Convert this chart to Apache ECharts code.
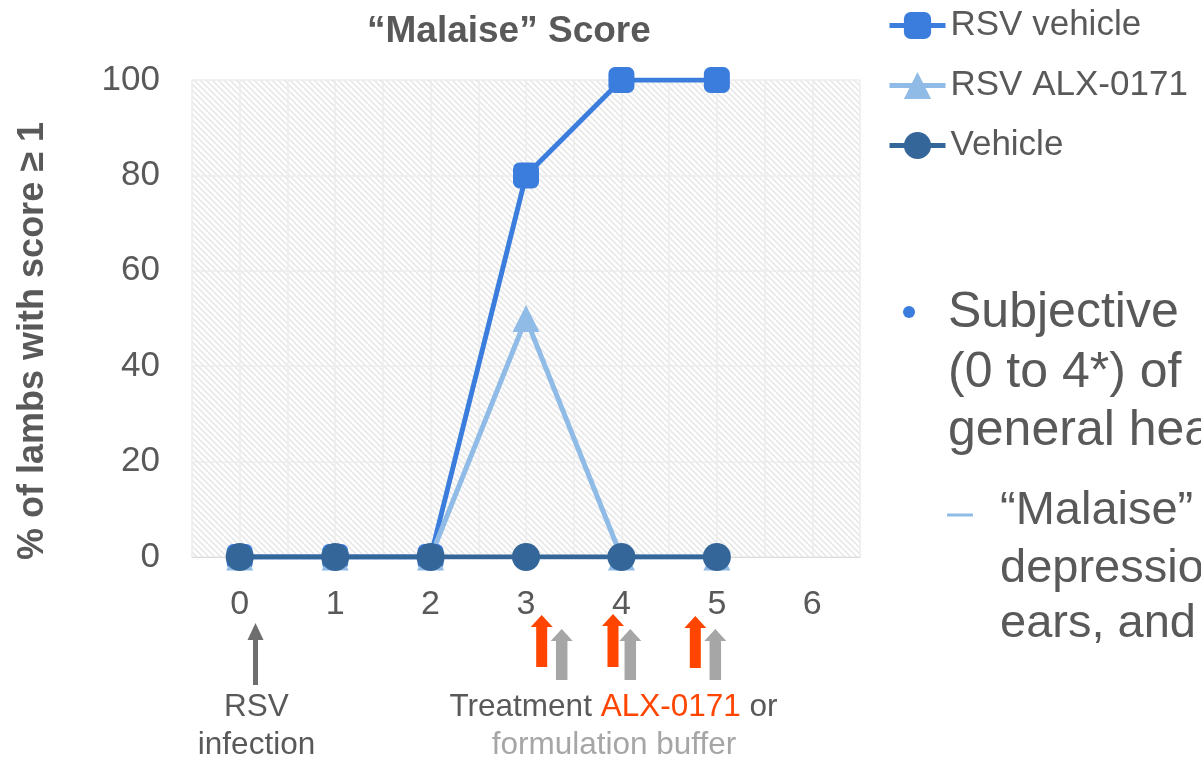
<!DOCTYPE html>
<html>
<head>
<meta charset="utf-8">
<script src="https://cdn.jsdelivr.net/npm/echarts@6/dist/echarts.min.js"></script>
<style>
  html, body { margin: 0; padding: 0; background: #ffffff; }
  #chart { width: 1201px; height: 759px; }
</style>
</head>
<body>
<div id="chart"></div>
<script>
// ---- data ----
const days = [0, 1, 2, 3, 4, 5, 6];
const seriesNames = ['RSV vehicle', 'RSV ALX-0171', 'Vehicle'];
const rsvVehicle = [0, 0, 0, 80, 100, 100];
const rsvAlx = [0, 0, 0, 50, 0, 0];
const vehicle = [0, 0, 0, 0, 0, 0];
const yTicks = [0, 20, 40, 60, 80, 100];
const titleText = '\u201CMalaise\u201D Score';
const yName = '% of lambs with score \u2265 1';
const bulletLines = ['Subjective', '(0 to 4*) of', 'general health'];
const subLines = ['\u201CMalaise\u201D', 'depression', 'ears, and'];

const FONT = "'Liberation Sans', Arial, sans-serif";
const GREY = '#595959';
const C1 = '#3b7ddd', C2 = '#8fbbe6', C3 = '#346699';
const ORANGE = '#ff4500', LGREY = '#a6a6a6', DGREY = '#6e6e6e';

function pairs(vals) { return vals.map((v, i) => [days[i], v]); }

// hatched background pattern
const tile = document.createElement('canvas');
tile.width = 6; tile.height = 6;
const tc = tile.getContext('2d');
tc.fillStyle = '#ffffff'; tc.fillRect(0, 0, 6, 6);
tc.strokeStyle = '#e8e8e8'; tc.lineWidth = 1.6;
tc.beginPath();
tc.moveTo(-1, -1); tc.lineTo(7, 7);
tc.moveTo(5, -1); tc.lineTo(7, 1);
tc.moveTo(-1, 5); tc.lineTo(1, 7);
tc.stroke();

function arrow(cx, top, headBase, bottom, headW, shaftW, color) {
  return {
    type: 'polygon', silent: true,
    shape: { points: [
      [cx, top], [cx + headW / 2, headBase], [cx + shaftW / 2, headBase],
      [cx + shaftW / 2, bottom], [cx - shaftW / 2, bottom],
      [cx - shaftW / 2, headBase], [cx - headW / 2, headBase]
    ] },
    style: { fill: color }
  };
}
function txt(x, y, text, size, color, extra) {
  return {
    type: 'text', x: x, y: y, silent: true,
    style: Object.assign({ text: text, fontSize: size, fontFamily: FONT, fill: color,
      align: 'left', verticalAlign: 'middle' }, extra || {})
  };
}

const chart = echarts.init(document.getElementById('chart'), null, { renderer: 'canvas' });
const xMin = days[0] - 0.5, xMax = days[days.length - 1] + 0.5;

chart.setOption({
  animation: false,
  backgroundColor: '#ffffff',
  title: {
    text: titleText, left: 362, top: 8,
    textStyle: { fontFamily: FONT, fontSize: 37, fontWeight: 'bold', color: GREY }
  },
  legend: {
    orient: 'vertical', left: 882, top: 3,
    itemWidth: 56, itemHeight: 34, itemGap: 25,
    data: seriesNames,
    lineStyle: { width: 5 },
    textStyle: { fontFamily: FONT, fontSize: 35, color: GREY, lineHeight: 34 }
  },
  grid: {
    left: 192, right: 341, top: 80, bottom: 202,
    show: true, borderWidth: 0,
    backgroundColor: { image: tile, repeat: 'repeat' }
  },
  xAxis: {
    type: 'value', min: xMin, max: xMax, interval: 0.5,
    axisLine: { show: true, lineStyle: { color: '#dcdcdc', width: 1 } },
    axisTick: { show: false },
    splitLine: { show: true, lineStyle: { color: '#ececec', width: 1.5 } },
    axisLabel: {
      margin: 31, fontFamily: FONT, fontSize: 34, color: GREY,
      showMinLabel: true, showMaxLabel: true,
      formatter: v => (Number.isInteger(v) && days.indexOf(v) >= 0) ? String(v) : ''
    }
  },
  yAxis: {
    type: 'value', min: yTicks[0], max: yTicks[yTicks.length - 1], interval: yTicks[1] - yTicks[0],
    axisLine: { show: false }, axisTick: { show: false },
    splitLine: { show: true, lineStyle: { color: '#ececec', width: 1.5 } },
    axisLabel: { margin: 32, fontFamily: FONT, fontSize: 35, color: GREY }
  },
  series: [
    { name: seriesNames[0], type: 'line', data: pairs(rsvVehicle),
      symbol: 'roundRect', symbolSize: 26, color: C1,
      lineStyle: { width: 5, color: C1 }, itemStyle: { color: C1 } },
    { name: seriesNames[1], type: 'line', data: pairs(rsvAlx),
      symbol: 'triangle', symbolSize: 27, color: C2,
      lineStyle: { width: 5, color: C2 }, itemStyle: { color: C2 } },
    { name: seriesNames[2], type: 'line', data: pairs(vehicle),
      symbol: 'circle', symbolSize: 28, color: C3,
      lineStyle: { width: 5, color: C3 }, itemStyle: { color: C3 } }
  ],
  graphic: [
    // y axis name
    { type: 'text', x: 33, y: 341, rotation: Math.PI / 2, silent: true,
      style: { text: yName, fontSize: 36, fontWeight: 'bold', fontFamily: FONT, fill: GREY,
        align: 'center', verticalAlign: 'middle' } },
    // RSV infection arrow & text
    arrow(255.5, 623, 640, 685, 16, 5, DGREY),
    txt(256.5, 707, 'RSV', 31.5, GREY, { align: 'center' }),
    txt(256.5, 745, 'infection', 31.5, GREY, { align: 'center' }),
    // treatment arrows
    arrow(541.7, 615, 627, 667, 22, 11, ORANGE),
    arrow(561.7, 629, 641, 680, 22, 11.5, LGREY),
    arrow(613, 614, 626, 667, 22, 11, ORANGE),
    arrow(630.3, 629, 641, 680, 22, 11.5, LGREY),
    arrow(695.3, 616, 628, 668, 22, 11, ORANGE),
    arrow(715.3, 629, 641, 680, 22, 11.5, LGREY),
    { type: 'text', x: 613.5, y: 707, silent: true,
      style: { text: 'Treatment {o|ALX-0171} or', fontSize: 31.5, fontFamily: FONT, fill: GREY,
        align: 'center', verticalAlign: 'middle',
        rich: { o: { fontSize: 31.5, fontFamily: FONT, fill: ORANGE, color: ORANGE } } } },
    txt(614, 745, 'formulation buffer', 31.5, LGREY, { align: 'center' }),
    // right-hand bullet text
    { type: 'circle', silent: true, shape: { cx: 909, cy: 312, r: 6 }, style: { fill: C1 } },
    txt(948, 313, bulletLines[0], 50, GREY),
    txt(948, 373, bulletLines[1], 50, GREY),
    txt(948, 431, bulletLines[2], 50, GREY),
    { type: 'rect', silent: true, shape: { x: 947, y: 513.5, width: 26, height: 3 }, style: { fill: C2 } },
    txt(1000, 511, subLines[0], 47, GREY),
    txt(1000, 569, subLines[1], 47, GREY),
    txt(1000, 624, subLines[2], 47, GREY)
  ]
});
</script>
</body>
</html>
